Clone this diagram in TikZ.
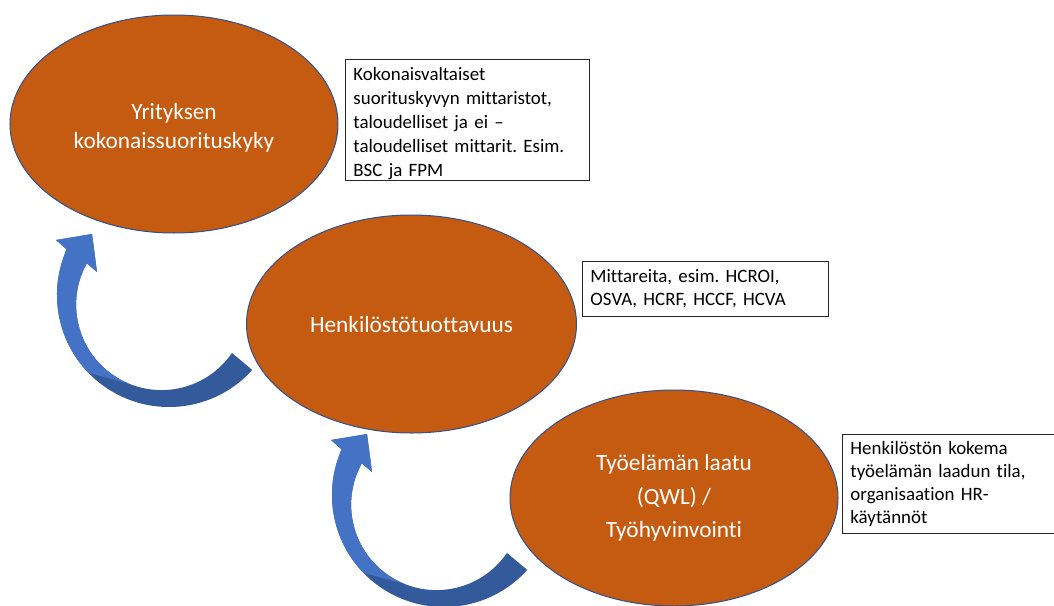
\documentclass[tikz,border=0pt]{standalone}
\usepackage{fontspec}
\setmainfont{Carlito}[Ligatures={NoCommon}]
\usetikzlibrary{shapes.geometric}

\definecolor{stagefill}{HTML}{C55A11}
\definecolor{stageedge}{HTML}{2F528F}
\definecolor{boxedge}{HTML}{262626}
\definecolor{arrowlight}{HTML}{4472C4}
\definecolor{arrowdark}{HTML}{335A9A}

\tikzset{
  stage/.style={ellipse, fill=stagefill, draw=stageedge, line width=1pt,
    text=white, align=center, inner sep=0pt,
    font=\fontsize{23.3}{28.5}\selectfont},
  infobox/.style={draw=boxedge, line width=0.9pt, fill=white, align=left,
    anchor=north west, inner xsep=8pt, inner ysep=0pt,
    font=\fontsize{18.9}{23.3}\selectfont\frenchspacing},
  % curved "feedback" arrow: dark back ribbon with the light front part and head on top
  cyclearrow/.pic={
    \fill[arrowdark] (66.68,249.45) arc[start angle=204, end angle=42, radius=112]
      -- (231.96,352.95) arc[start angle=34.4, end angle=209, radius=85.4]
      -- (97,272) -- (92,234) -- (56,240) -- cycle;
    \fill[arrowlight] (66.68,249.45) arc[start angle=204, end angle=136, radius=112]
      -- (129.5,383.9) arc[start angle=112, end angle=209, radius=85.4]
      -- (97,272) -- (92,234) -- (56,240) -- cycle;
  }
}

\begin{document}
\begin{tikzpicture}[x=1pt, y=-1pt]
  \clip (0,0) rectangle (1054,605);
  \fill[white] (0,0) rectangle (1054,605);

  % stages
  \node[stage, minimum width=328pt, minimum height=218pt, text height=52pt] (s1) at (174,124)
    {Yrityksen\\kokonaissuorituskyky};
  \node[stage, minimum width=330pt, minimum height=218pt] (s2) at (411.5,324)
    {Henkilöstötuottavuus};
  \node[stage, minimum width=328pt, minimum height=216pt,
        font=\fontsize{23.3}{33.5}\selectfont] (s3) at (674,498)
    {Työelämän laatu\\(QWL) /\\Työhyvinvointi};

  % feedback arrows
  \pic at (0,0) {cyclearrow};
  \pic at (275,200) {cyclearrow};

  % descriptions
  \node[infobox, text width=228pt, minimum height=121pt, text height=19.5pt,
        font=\fontsize{18.9}{24}\selectfont\frenchspacing] (n1) at (345,59)
    {Kokonaisvaltaiset\\suorituskyvyn mittaristot,\\taloudelliset ja ei –\\taloudelliset mittarit. Esim.\\BSC ja FPM};
  \node[infobox, text width=230pt, minimum height=55pt] (n2) at (582,261)
    {Mittareita, esim. HCROI,\\OSVA, HCRF, HCCF, HCVA};
  \node[infobox, text width=224pt, minimum height=99pt] (n3) at (842,434)
    {Henkilöstön kokema\\työelämän laadun tila,\\organisaation HR-\\käytännöt};
\end{tikzpicture}
\end{document}
